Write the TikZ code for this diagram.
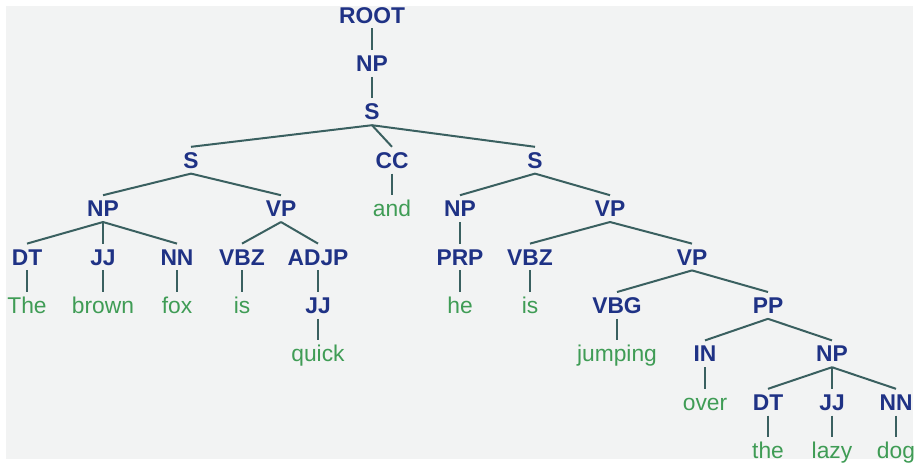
\documentclass[tikz,border=0pt]{standalone}
\usepackage{fontspec}
\setmainfont{Liberation Sans}
\definecolor{tagc}{HTML}{1F3285}
\definecolor{wordc}{HTML}{3F9C55}
\definecolor{edgec}{HTML}{3A6060}
\definecolor{panel}{HTML}{F2F3F3}
\begin{document}
\begin{tikzpicture}[x=0.5pt,y=-0.5pt,
  base/.style={anchor=base,inner xsep=1pt,inner ysep=2.5pt,text height=8pt,text depth=0pt,font=\fontsize{11.4}{13}\selectfont},
  tag/.style={base,text=tagc,font=\fontsize{11.4}{13}\selectfont\bfseries},
  word/.style={base,text=wordc},
  edge/.style={draw=edgec,line width=1pt}]
\useasboundingbox (0,0) rectangle (920,463);
\fill[white] (0,0) rectangle (920,463);
\fill[panel] (6,6) rectangle (913,459);
% row 0-2
\node[tag] (root) at (372,23) {ROOT};
\node[tag] (np0) at (372,71.4) {NP};
\node[tag] (s0) at (372,119.8) {S};
% row 3
\node[tag] (s1) at (191,168.2) {S};
\node[tag] (cc) at (392,168.2) {CC};
\node[tag] (s2) at (535,168.2) {S};
% row 4
\node[tag] (np1) at (103,216.6) {NP};
\node[tag] (vp1) at (281,216.6) {VP};
\node[word] (and) at (392,216.6) {and};
\node[tag] (np2) at (460,216.6) {NP};
\node[tag] (vp2) at (610,216.6) {VP};
% row 5
\node[tag] (dt1) at (27,265) {DT};
\node[tag] (jj1) at (103,265) {JJ};
\node[tag] (nn1) at (177,265) {NN};
\node[tag] (vbz1) at (242,265) {VBZ};
\node[tag] (adjp) at (318,265) {ADJP};
\node[tag] (prp) at (460,265) {PRP};
\node[tag] (vbz2) at (530,265) {VBZ};
\node[tag] (vp3) at (692,265) {VP};
% row 6
\node[word] (the1) at (27,313.4) {The};
\node[word] (brown) at (103,313.4) {brown};
\node[word] (fox) at (177,313.4) {fox};
\node[word] (is1) at (242,313.4) {is};
\node[tag] (jj2) at (318,313.4) {JJ};
\node[word] (he) at (460,313.4) {he};
\node[word] (is2) at (530,313.4) {is};
\node[tag] (vbg) at (617,313.4) {VBG};
\node[tag] (pp) at (768,313.4) {PP};
% row 7
\node[word] (quick) at (318,361.8) {quick};
\node[word] (jumping) at (617,361.8) {jumping};
\node[tag] (in) at (705,361.8) {IN};
\node[tag] (np3) at (832,361.8) {NP};
% row 8
\node[word] (over) at (705,410.2) {over};
\node[tag] (dt2) at (768,410.2) {DT};
\node[tag] (jj3) at (832,410.2) {JJ};
\node[tag] (nn2) at (896,410.2) {NN};
% row 9
\node[word] (the2) at (768,458.6) {the};
\node[word] (lazy) at (832,458.6) {lazy};
\node[word] (dog) at (896,458.6) {dog};
% edges
\foreach \p/\c in {root/np0,np0/s0,s0/s1,s0/cc,s0/s2,
  s1/np1,s1/vp1,cc/and,s2/np2,s2/vp2,
  np1/dt1,np1/jj1,np1/nn1,vp1/vbz1,vp1/adjp,np2/prp,vp2/vbz2,vp2/vp3,
  dt1/the1,jj1/brown,nn1/fox,vbz1/is1,adjp/jj2,prp/he,vbz2/is2,vp3/vbg,vp3/pp,
  jj2/quick,vbg/jumping,pp/in,pp/np3,
  in/over,np3/dt2,np3/jj3,np3/nn2,
  dt2/the2,jj3/lazy,nn2/dog}
  \draw[edge] (\p.south) -- (\c.north);
\end{tikzpicture}
\end{document}
